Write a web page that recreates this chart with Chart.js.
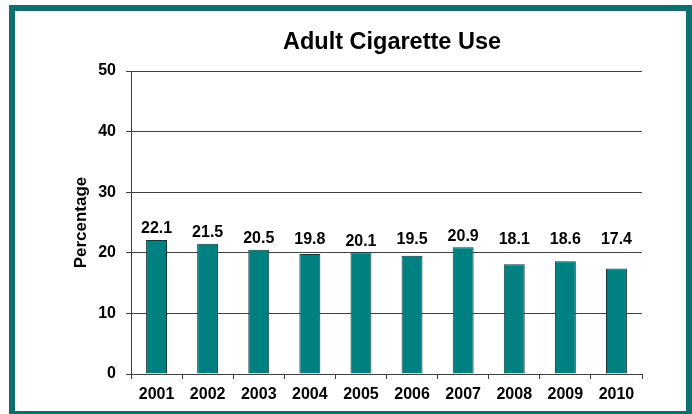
<!DOCTYPE html>
<html>
<head>
<meta charset="utf-8">
<script src="https://cdn.jsdelivr.net/npm/chart.js@4.4.0/dist/chart.umd.min.js"></script>
<style>
  html, body { margin: 0; padding: 0; background: #ffffff; }
  #wrap { position: relative; width: 692px; height: 414px; overflow: hidden; background: #fff; }
  #frame { position: absolute; left: 9px; top: 5px; width: 671px; height: 400px; border: 6px solid #0d6f6f; }
  #c { position: absolute; left: 0; top: 0; }
</style>
</head>
<body>
<div id="wrap">
  <div id="frame"></div>
  <canvas id="c" width="692" height="414"></canvas>
</div>
<script>
const chartTitle = "Adult Cigarette Use";
const yAxisTitle = "Percentage";
const years = ["2001","2002","2003","2004","2005","2006","2007","2008","2009","2010"];
const smokingPct = [22.1, 21.5, 20.5, 19.8, 20.1, 19.5, 20.9, 18.1, 18.6, 17.4];
const yTicks = [0, 10, 20, 30, 40, 50];

const FONT = "'Liberation Sans', Arial, sans-serif";

const titlePlugin = {
  id: 'customTitle',
  afterDraw(chart) {
    const ctx = chart.ctx;
    ctx.save();
    ctx.font = "bold 23.5px " + FONT;
    ctx.fillStyle = "#000";
    ctx.textAlign = "center";
    ctx.textBaseline = "middle";
    ctx.fillText(chartTitle, 392, 43);
    ctx.restore();
  }
};

const labelPlugin = {
  id: 'barLabels',
  afterDatasetsDraw(chart) {
    const ctx = chart.ctx;
    const meta = chart.getDatasetMeta(0);
    const yScale = chart.scales.y;
    ctx.save();
    ctx.font = "bold 16px " + FONT;
    ctx.fillStyle = "#000";
    ctx.textAlign = "center";
    ctx.textBaseline = "middle";
    meta.data.forEach((bar, i) => {
      let cy = bar.y - 11;
      const half = 8;
      // keep label clear of gridlines: move above a gridline it would touch
      yTicks.forEach(t => {
        const gy = yScale.getPixelForValue(t);
        if (gy < bar.y && cy + half + 2 > gy && cy - half < gy) {
          cy = gy - half - 5;
        }
      });
      ctx.fillText(String(smokingPct[i]), bar.x, cy);
    });
    ctx.restore();
  }
};

new Chart(document.getElementById('c'), {
  type: 'bar',
  data: {
    labels: years,
    datasets: [{
      data: smokingPct,
      backgroundColor: '#008080',
      borderColor: '#183434',
      borderWidth: 1,
      borderSkipped: 'bottom',
      categoryPercentage: 1.0,
      barPercentage: 0.41
    }]
  },
  options: {
    responsive: false,
    animation: false,
    layout: { padding: { left: 58, right: 50, top: 71, bottom: 0 } },
    plugins: {
      legend: { display: false },
      title: { display: false },
      tooltip: { enabled: false }
    },
    scales: {
      x: {
        afterFit(scale) { scale.height = 40; },
        grid: { display: true, drawOnChartArea: false, drawTicks: true, tickLength: 5, offset: true, color: '#404040' },
        border: { display: true, color: '#404040', width: 1 },
        ticks: { color: '#000', font: { family: FONT, size: 16, weight: 'bold' }, padding: 6, maxRotation: 0 }
      },
      y: {
        min: 0, max: 50,
        afterFit(scale) { scale.width = 73; },
        afterBuildTicks(scale) { scale.ticks = yTicks.map(v => ({ value: v })); },
        grid: { color: '#404040', lineWidth: 1, drawTicks: true, tickLength: 5 },
        border: { display: true, color: '#404040', width: 1 },
        ticks: { color: '#000', font: { family: FONT, size: 16, weight: 'bold' }, padding: 10 },
        title: {
          display: true, text: yAxisTitle, color: '#000',
          font: { family: FONT, size: 17, weight: 'bold' },
          padding: { top: 13, bottom: 0 }
        }
      }
    }
  },
  plugins: [titlePlugin, labelPlugin]
});
</script>
</body>
</html>
